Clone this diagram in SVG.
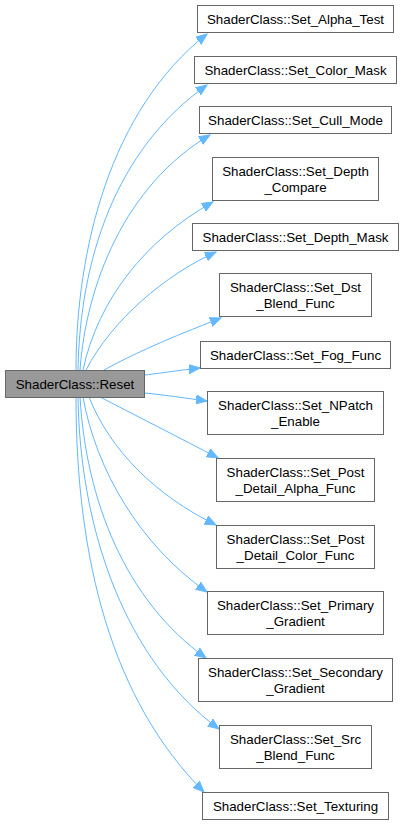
<svg xmlns="http://www.w3.org/2000/svg" width="403" height="824" viewBox="0 0 403 824">
<style>
.n rect{fill:#ffffff;stroke:#666666;stroke-width:1}
#reset rect{fill:#999999;stroke:#666666}
text{font-family:"Liberation Sans",Arial,sans-serif;font-size:13.33px;fill:#000000;text-anchor:middle}
.e path{fill:none;stroke:#63b8ff;stroke-width:1;marker-end:url(#ah)}
</style>
<defs>
<marker id="ah" markerUnits="userSpaceOnUse" markerWidth="12" markerHeight="10" viewBox="0 0 12 10" refX="11" refY="5" orient="auto">
<path d="M0,0.5 L11,5 L0,9.5 z" fill="#63b8ff" stroke="#63b8ff" stroke-width="1"/>
</marker>
</defs>
<rect width="403" height="824" fill="#ffffff"/>
<g id="connectors" class="e">
<path d="M76,370 C76,250 110,110 207,34"/>
<path d="M78,370 C80,260 115,150 207,85"/>
<path d="M80,370 C86,285 125,185 210,135"/>
<path d="M83,370 C98,300 145,240 213,202"/>
<path d="M86,370 C112,320 165,275 216,252"/>
<path d="M104,370 C140,350 185,332 221,318"/>
<path d="M145,375 C163,373 180,370 200,368"/>
<path d="M145,393 C165,395 185,398 207,401"/>
<path d="M100,397 C135,415 180,438 218,458"/>
<path d="M89,397 C110,450 155,495 216,525"/>
<path d="M83,397 C96,470 140,545 207,592"/>
<path d="M80,397 C86,500 125,600 206,658"/>
<path d="M78,397 C80,530 125,660 219,729"/>
<path d="M76,397 C76,560 112,700 204,792"/>
</g>
<g id="reset" class="n"><rect x="5.5" y="370.5" width="139" height="27"/><text x="75" y="388.5">ShaderClass::Reset</text></g>
<g id="alpha_test" class="n"><rect x="197.5" y="5.5" width="196" height="27"/><text x="295.5" y="23.5">ShaderClass::Set_Alpha_Test</text></g>
<g id="color_mask" class="n"><rect x="194.5" y="56.5" width="202" height="27"/><text x="295.5" y="74.5">ShaderClass::Set_Color_Mask</text></g>
<g id="cull_mode" class="n"><rect x="199.5" y="106.5" width="192" height="27"/><text x="295.5" y="124.5">ShaderClass::Set_Cull_Mode</text></g>
<g id="depth_compare" class="n"><rect x="212.5" y="157.5" width="166" height="43"/><text x="295.5" y="176">ShaderClass::Set_Depth</text><text x="295.5" y="192">_Compare</text></g>
<g id="depth_mask" class="n"><rect x="192.5" y="223.5" width="206" height="27"/><text x="295.5" y="241.5">ShaderClass::Set_Depth_Mask</text></g>
<g id="dst_blend" class="n"><rect x="219.5" y="273.5" width="152" height="43"/><text x="295.5" y="292">ShaderClass::Set_Dst</text><text x="295.5" y="308">_Blend_Func</text></g>
<g id="fog_func" class="n"><rect x="200.5" y="341.5" width="190" height="27"/><text x="295.5" y="359.5">ShaderClass::Set_Fog_Func</text></g>
<g id="npatch" class="n"><rect x="207.5" y="391.5" width="176" height="43"/><text x="295.5" y="410">ShaderClass::Set_NPatch</text><text x="295.5" y="426">_Enable</text></g>
<g id="post_alpha" class="n"><rect x="216.5" y="458.5" width="158" height="43"/><text x="295.5" y="477">ShaderClass::Set_Post</text><text x="295.5" y="493">_Detail_Alpha_Func</text></g>
<g id="post_color" class="n"><rect x="216.5" y="525.5" width="158" height="43"/><text x="295.5" y="544">ShaderClass::Set_Post</text><text x="295.5" y="560">_Detail_Color_Func</text></g>
<g id="primary" class="n"><rect x="207.5" y="591.5" width="176" height="43"/><text x="295.5" y="610">ShaderClass::Set_Primary</text><text x="295.5" y="626">_Gradient</text></g>
<g id="secondary" class="n"><rect x="198.5" y="658.5" width="194" height="43"/><text x="295.5" y="677">ShaderClass::Set_Secondary</text><text x="295.5" y="693">_Gradient</text></g>
<g id="src_blend" class="n"><rect x="219.5" y="725.5" width="152" height="43"/><text x="295.5" y="744">ShaderClass::Set_Src</text><text x="295.5" y="760">_Blend_Func</text></g>
<g id="texturing" class="n"><rect x="202.5" y="792.5" width="186" height="27"/><text x="295.5" y="810.5">ShaderClass::Set_Texturing</text></g>
</svg>
